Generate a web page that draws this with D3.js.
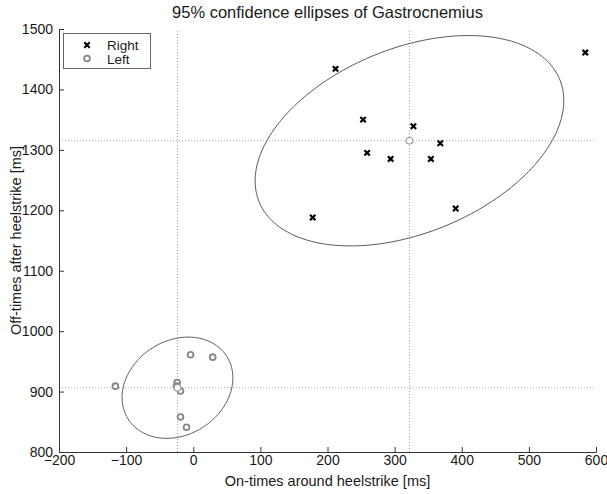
<!DOCTYPE html>
<html>
<head>
<meta charset="utf-8">
<script src="https://cdn.jsdelivr.net/npm/d3@7/dist/d3.min.js"></script>
<style>
  html, body { margin: 0; padding: 0; background: #fff; }
  svg { display: block; font-family: "Liberation Sans", Arial, Helvetica, sans-serif; }
</style>
</head>
<body>
<svg id="chart" width="607" height="494"></svg>
<script>
// Muscle activity timing (ms) for each trial, right and left leg
const rightOn  = [212, 584, 253, 328, 368, 259, 294, 354, 391, 178];
const rightOff = [1434, 1461, 1350, 1339, 1311, 1295, 1285, 1285, 1203, 1188];
const leftOn   = [-116, -4, 29, -24, -25, -19, -19, -10];
const leftOff  = [909, 961, 957, 915, 909, 901, 858, 841];

const seriesNames = ["Right", "Left"];
const xTicks = [-200, -100, 0, 100, 200, 300, 400, 500, 600];
const yTicks = [800, 900, 1000, 1100, 1200, 1300, 1400, 1500];
const xDomain = [-200, 600];
const yDomain = [800, 1500];
const sigmaScale = 2; // ellipse drawn at two standard deviations

const titleText = "95% confidence ellipses of Gastrocnemius";
const xLabel = "On-times around heelstrike [ms]";
const yLabel = "Off-times after heelstrike [ms]";

const W = 607, H = 494;
const margin = { left: 59, right: 11, top: 29, bottom: 42 };

const svg = d3.select("#chart");
const x = d3.scaleLinear().domain(xDomain).range([margin.left, W - margin.right]);
const y = d3.scaleLinear().domain(yDomain).range([H - margin.bottom, margin.top]);

const axisColor = "#333";
const textColor = "#1a1a1a";

// Mean and sample covariance of a set of (on, off) pairs
function stats(xs, ys) {
  const n = xs.length;
  const mx = d3.mean(xs), my = d3.mean(ys);
  let sxx = 0, syy = 0, sxy = 0;
  for (let i = 0; i < n; i++) {
    const dx = xs[i] - mx, dy = ys[i] - my;
    sxx += dx * dx; syy += dy * dy; sxy += dx * dy;
  }
  return { mx, my, sxx: sxx / (n - 1), syy: syy / (n - 1), sxy: sxy / (n - 1) };
}

// Outline of the covariance ellipse (Cholesky factor applied to a unit circle)
function ellipsePoints(s, k) {
  const l11 = Math.sqrt(s.sxx);
  const l21 = s.sxy / l11;
  const l22 = Math.sqrt(Math.max(s.syy - l21 * l21, 0));
  return d3.range(0, 200).map(i => {
    const t = (i / 200) * 2 * Math.PI;
    const c = Math.cos(t), sn = Math.sin(t);
    return [s.mx + k * l11 * c, s.my + k * (l21 * c + l22 * sn)];
  });
}

const groups = [
  { name: seriesNames[0], xs: rightOn, ys: rightOff, marker: "cross" },
  { name: seriesNames[1], xs: leftOn, ys: leftOff, marker: "circle" }
];
groups.forEach(g => { g.stats = stats(g.xs, g.ys); });

const plot = svg.append("g");

// Dotted guide lines through each group's mean
groups.forEach(g => {
  plot.append("line")
    .attr("x1", x(g.stats.mx)).attr("x2", x(g.stats.mx))
    .attr("y1", y(yDomain[0])).attr("y2", y(yDomain[1]))
    .attr("stroke", "#a8a8a8").attr("stroke-width", 1)
    .attr("stroke-dasharray", "1,2");
  plot.append("line")
    .attr("x1", x(xDomain[0])).attr("x2", x(xDomain[1]))
    .attr("y1", y(g.stats.my)).attr("y2", y(g.stats.my))
    .attr("stroke", "#a8a8a8").attr("stroke-width", 1)
    .attr("stroke-dasharray", "1,2");
});

// Ellipses
const line = d3.line().x(d => x(d[0])).y(d => y(d[1])).curve(d3.curveLinearClosed);
groups.forEach(g => {
  plot.append("path")
    .attr("d", line(ellipsePoints(g.stats, sigmaScale)))
    .attr("fill", "none")
    .attr("stroke", "#5a5a5a")
    .attr("stroke-width", 1);
});

function drawMarker(sel, type, cx, cy) {
  if (type === "cross") {
    const s = 2.7;
    sel.append("path")
      .attr("d", `M${cx - s},${cy - s}L${cx + s},${cy + s}M${cx + s},${cy - s}L${cx - s},${cy + s}`)
      .attr("stroke", "#000").attr("stroke-width", 2.2).attr("fill", "none");
  } else {
    sel.append("circle")
      .attr("cx", cx).attr("cy", cy).attr("r", 2.9)
      .attr("fill", "#fff").attr("stroke", "#858585").attr("stroke-width", 1.8);
  }
}

// Data points
groups.forEach(g => {
  g.xs.forEach((v, i) => drawMarker(plot, g.marker, x(v), y(g.ys[i])));
});

// Mean markers
groups.forEach(g => {
  plot.append("circle")
    .attr("cx", x(g.stats.mx)).attr("cy", y(g.stats.my)).attr("r", 3.3)
    .attr("fill", "#fff").attr("stroke", "#9a9a9a").attr("stroke-width", 1.1);
});

// Axes (ticks point inward)
const fmt = d3.format("d");
const xAxis = d3.axisBottom(x).tickValues(xTicks).tickFormat(fmt).tickSizeInner(-5).tickSizeOuter(0).tickPadding(8);
const yAxis = d3.axisLeft(y).tickValues(yTicks).tickFormat(fmt).tickSizeInner(-5).tickSizeOuter(0).tickPadding(9);

const gx = svg.append("g").attr("transform", `translate(0,${y(yDomain[0])})`).call(xAxis);
const gy = svg.append("g").attr("transform", `translate(${x(xDomain[0])},0)`).call(yAxis);
[gx, gy].forEach(g => {
  g.select(".domain").attr("stroke", axisColor);
  g.selectAll(".tick line").attr("stroke", axisColor);
  g.selectAll(".tick text").attr("fill", textColor).attr("font-size", 14)
    .attr("font-family", "'Liberation Sans', Arial, sans-serif");
});
gx.selectAll(".tick text").attr("dy", "0.72em").attr("y", 3);
gy.selectAll(".tick text").attr("x", -6);

// Title and axis labels
svg.append("text")
  .attr("x", (x(xDomain[0]) + x(xDomain[1])) / 2).attr("y", 18)
  .attr("text-anchor", "middle").attr("font-size", 16.5).attr("fill", textColor)
  .text(titleText);

svg.append("text")
  .attr("x", (x(xDomain[0]) + x(xDomain[1])) / 2).attr("y", 486)
  .attr("text-anchor", "middle").attr("font-size", 14.5).attr("fill", textColor)
  .text(xLabel);

svg.append("text")
  .attr("transform", `translate(21,${(y(yDomain[0]) + y(yDomain[1])) / 2}) rotate(-90)`)
  .attr("text-anchor", "middle").attr("font-size", 14.5).attr("fill", textColor)
  .text(yLabel);

// Legend
const legend = svg.append("g");
legend.append("rect")
  .attr("x", 63.5).attr("y", 33.5).attr("width", 87).attr("height", 35)
  .attr("fill", "#fff").attr("stroke", "#666").attr("stroke-width", 1);
groups.forEach((g, i) => {
  const ly = 45 + i * 13.5;
  drawMarker(legend, g.marker, 87, ly);
  legend.append("text")
    .attr("x", 107).attr("y", ly + 5)
    .attr("font-size", 13.5).attr("fill", textColor)
    .text(g.name);
});
</script>
</body>
</html>
